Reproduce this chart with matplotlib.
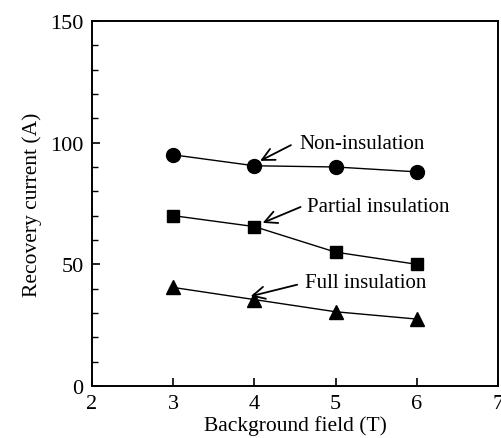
import matplotlib.pyplot as plt
import numpy as np

plt.rcParams['font.family'] = ['Liberation Serif', 'DejaVu Serif']

# data
field = [3, 4, 5, 6]
non_ins = [95, 90.5, 90, 88]
partial_ins = [70, 65.5, 55, 50]
full_ins = [40.5, 35.5, 30.5, 27.5]

fig = plt.figure(figsize=(5.02, 4.39), dpi=100)
ax = fig.add_axes([0.1833, 0.1185, 0.8088, 0.8314])

ax.plot(field, non_ins, '-o', color='black', lw=1.0, ms=10)
ax.plot(field, partial_ins, '-s', color='black', lw=1.0, ms=9)
ax.plot(field, full_ins, '-^', color='black', lw=1.0, ms=10.5)

ax.set_xlim(2, 7)
ax.set_ylim(0, 150)
ax.set_xticks([2, 3, 4, 5, 6, 7])
ax.set_yticks([0, 50, 100, 150])
ax.set_yticks(np.arange(0, 151, 10), minor=True)
ax.tick_params(direction='in', labelsize=16, length=6, width=1.2, pad=6)
ax.tick_params(which='minor', direction='in', length=4, width=1)
for s in ax.spines.values():
    s.set_linewidth(1.4)

ax.set_xlabel('Background field (T)', fontsize=15.5, labelpad=1)
ax.set_ylabel('Recovery current (A)', fontsize=15.5, labelpad=6)

# labels with arrows
arrow = dict(arrowstyle='->', color='black', lw=1.3, mutation_scale=22)
ax.annotate('', xy=(4.04, 92), xytext=(4.48, 99.5), arrowprops=arrow)
ax.text(4.55, 99.5, 'Non-insulation', fontsize=15, va='center', ha='left')
ax.annotate('', xy=(4.07, 66.6), xytext=(4.6, 74), arrowprops=arrow)
ax.text(4.65, 73.6, 'Partial insulation', fontsize=15, va='center', ha='left')
ax.annotate('', xy=(3.92, 36.6), xytext=(4.56, 41.9), arrowprops=arrow)
ax.text(4.62, 42.7, 'Full insulation', fontsize=15, va='center', ha='left')

plt.savefig('out.png', dpi=100)
